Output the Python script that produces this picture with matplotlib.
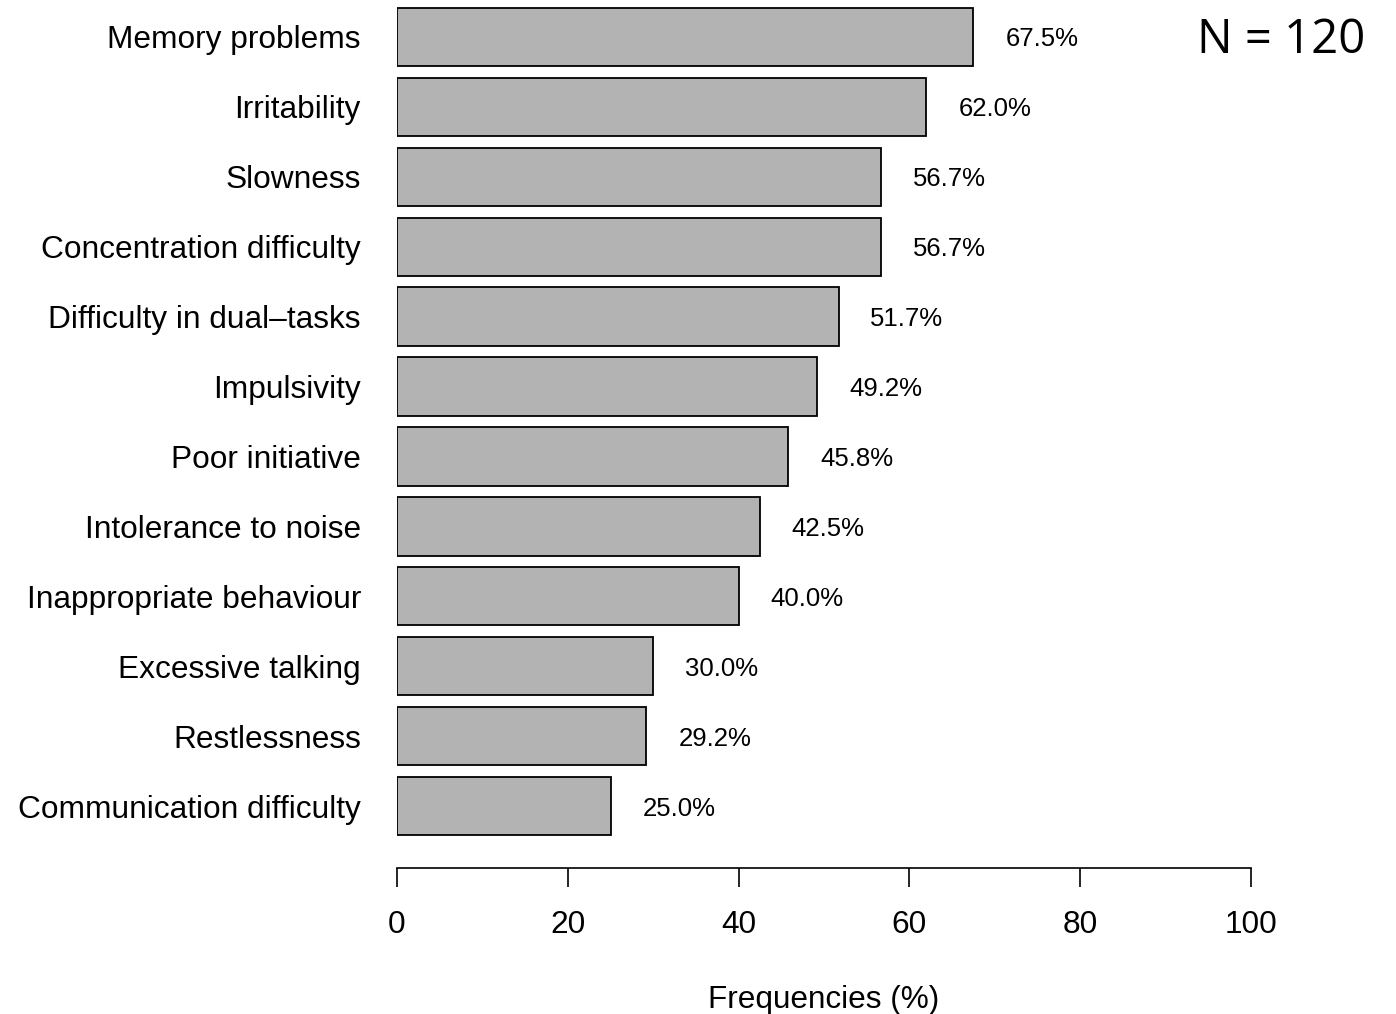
import numpy as np
import matplotlib
matplotlib.use("Agg")
from matplotlib import pyplot as plt

symptoms = ["Memory problems", "Irritability", "Slowness", "Concentration difficulty",
            "Difficulty in dual\u2013tasks", "Impulsivity", "Poor initiative",
            "Intolerance to noise", "Inappropriate behaviour", "Excessive talking",
            "Restlessness", "Communication difficulty"]
freq = [67.5, 62.0, 56.7, 56.7, 51.7, 49.2, 45.8, 42.5, 40.0, 30.0, 29.2, 25.0]
xticks = [0, 20, 40, 60, 80, 100]

plt.rcParams['font.family'] = ['Liberation Sans', 'DejaVu Sans']

fig = plt.figure(figsize=(13.96, 10.14), dpi=100)
ax = fig.add_axes([397/1396, 173/1014, 854/1396, 839/1014])

n = len(freq)
ypos = np.arange(n)[::-1]
ax.barh(ypos, freq, height=1/1.2, color='#b3b3b3', edgecolor='black', linewidth=1.3)

for y, v in zip(ypos, freq):
    ax.text(v + 8, y, '%.1f%%' % v, ha='center', va='center_baseline', fontsize=18.5)

ax.set_xlim(0, 100)
ax.set_ylim(-0.5, n - 0.5)
ax.set_yticks(ypos)
ax.set_yticklabels(symptoms)
ax.tick_params(axis='y', length=0, pad=26, labelsize=22.8)
ax.set_xticks(xticks)
ax.set_xticklabels([str(t) for t in xticks])
ax.tick_params(axis='x', length=14, width=1.2, pad=16, labelsize=22.8)

for s in ['top', 'right', 'left']:
    ax.spines[s].set_visible(False)
ax.spines['bottom'].set_position(('outward', 19.4))
ax.spines['bottom'].set_linewidth(1.2)

ax.set_xlabel('Frequencies (%)', fontsize=22.7, labelpad=33)

fig.text(1365/1396, 1 - 40/1014, 'N = 120', ha='right', va='center',
         fontsize=34, family=['Open Sans', 'DejaVu Sans'])

fig.savefig('out.png', dpi=100)
